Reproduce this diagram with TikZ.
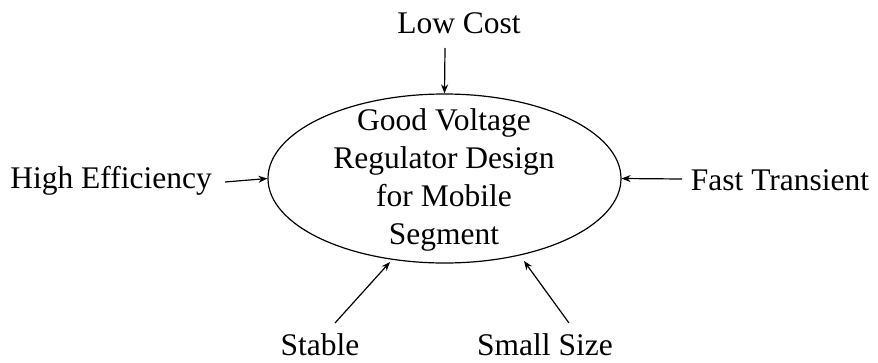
\documentclass[tikz,border=0pt]{standalone}
\usepackage{fontspec}
\setmainfont{Liberation Serif}
\usetikzlibrary{shapes.geometric,arrows.meta}
\begin{document}
\begin{tikzpicture}[x=1pt,y=-1pt,
  lbl/.style={inner sep=0pt,font=\fontsize{31.5}{38}\selectfont},
  arr/.style={-{Stealth[length=9pt,width=7pt]},line width=1.2pt}]
\useasboundingbox (0,0) rectangle (878,362);
\node[draw,ellipse,line width=1.2pt,minimum width=353pt,minimum height=169pt,inner sep=0pt] (c) at (444.5,178.5) {};
\node[lbl,align=center] (t) at (444,180) {Good Voltage\\Regulator Design\\for Mobile\\Segment};
\node[lbl] (low) at (459,23) {Low Cost};
\node[lbl] (high) at (111,181) {High Efficiency};
\node[lbl] (fast) at (780,180) {Fast Transient};
\node[lbl] (stable) at (320,345) {Stable};
\node[lbl] (small) at (545,345) {Small Size};
\coordinate (lowS) at (445,48);
\coordinate (highS) at (225,182);
\coordinate (fastS) at (682,179);
\coordinate (stS) at (335,323);
\coordinate (smS) at (569,323);
\draw[arr] (lowS) -- (c.north);
\draw[arr] (highS) -- (c.west);
\draw[arr] (fastS) -- (c.east);
\draw[arr] (stS) -- (390,262);
\draw[arr] (smS) -- (524,261);
\end{tikzpicture}
\end{document}
